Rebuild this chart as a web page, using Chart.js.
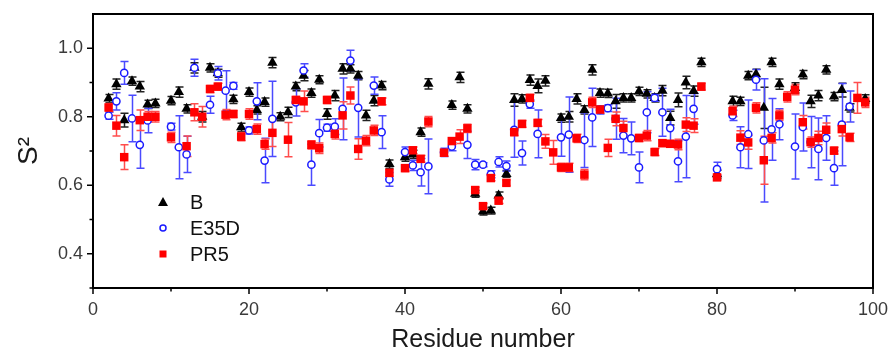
<!DOCTYPE html>
<html><head><meta charset="utf-8">
<script src="https://cdn.jsdelivr.net/npm/chart.js@4.4.0/dist/chart.umd.min.js"></script>
<style>html,body{margin:0;padding:0;background:#fff}#wrap{width:890px;height:354px}</style>
</head><body><div id="wrap"><canvas id="c" width="890" height="354"></canvas></div>
<script>
// ---- data ----
const residues = [2,3,4,5,6,7,8,10,11,12,13,14,15,16,17,18,19,20,21,22,23,24,25,26,27,28,29,30,31,32,33,34,35,36,37,38,40,41,42,43,45,46,47,48,49,50,51,52,53,54,55,56,57,58,59,60,61,62,63,64,65,66,67,68,69,70,71,72,73,74,75,76,77,78,80,82,83,84,85,86,87,88,89,90,91,92,93,94,95,96,97,98,99];
const bS2 = [0.853,0.895,0.79,0.904,0.888,0.836,0.839,0.847,0.872,0.823,0.943,0.80,0.943,0.927,null,0.851,0.769,0.872,0.82,0.843,0.958,0.80,0.813,0.888,0.92,0.869,0.908,0.808,0.862,0.94,0.94,0.92,0.804,0.847,0.891,0.662,0.682,0.69,0.755,0.896,null,0.834,0.915,0.823,0.575,0.523,0.526,0.57,0.633,0.849,0.852,0.907,0.89,0.905,null,0.796,0.80,0.852,0.82,0.937,0.869,0.868,0.845,0.855,0.855,0.874,0.867,0.855,0.876,0.796,0.849,0.9,0.875,0.959,0.632,0.845,0.845,0.92,0.924,0.826,0.959,0.895,null,0.884,0.923,0.845,0.862,0.937,0.859,0.878,0.826,null,0.852];
const bErr = [0.012,0.015,0.02,0.012,0.015,0.012,0.012,0.012,0.015,0.012,0.015,0.015,0.012,0.012,null,0.012,0.012,0.012,0.012,0.012,0.015,0.012,0.015,0.012,0.015,0.012,0.012,0.015,0.015,0.015,0.012,0.012,0.015,0.015,0.012,0.012,0.012,0.012,0.012,0.015,null,0.012,0.015,0.012,0.01,0.01,0.01,0.01,0.01,0.018,0.012,0.015,0.02,0.015,null,0.012,0.015,0.015,0.012,0.015,0.012,0.012,0.02,0.012,0.012,0.012,0.012,0.012,0.015,0.02,0.02,0.018,0.015,0.012,0.012,0.015,0.012,0.012,0.015,0.06,0.012,0.015,null,0.015,0.012,0.018,0.015,0.012,0.012,0.02,0.012,null,0.012];
const eS2 = [0.803,0.845,0.928,0.795,0.718,0.789,null,0.771,0.711,0.69,0.943,null,0.835,0.927,0.876,0.89,null,0.76,0.845,0.672,0.794,null,null,0.842,0.935,0.66,0.752,0.768,0.771,0.823,0.964,0.826,null,0.891,0.755,0.617,0.697,0.658,0.638,0.655,0.696,0.713,null,0.718,0.66,0.66,0.632,0.668,0.656,0.762,0.694,0.837,0.75,null,null,0.74,0.748,null,0.732,0.798,0.82,0.825,0.794,0.745,0.737,0.652,0.813,0.855,0.813,0.767,0.67,0.742,0.823,null,0.647,0.804,0.711,0.749,0.908,0.731,0.763,0.778,null,0.713,0.77,0.726,0.706,0.738,0.65,0.777,0.83,null,null];
const eErr = [0.01,0.025,0.033,0.068,0.068,0.036,null,0.01,0.092,0.053,0.025,null,0.025,0.02,0.058,0.01,null,0.01,0.054,0.065,0.11,null,null,0.04,0.02,0.06,0.04,0.01,0.023,0.09,0.03,0.085,null,0.025,0.048,0.02,0.015,0.015,0.04,0.08,0.012,0.012,null,0.04,0.015,0.006,0.01,0.015,0.015,0.08,0.035,0.012,0.07,null,null,0.055,0.11,null,0.08,0.085,0.012,0.01,0.06,0.05,0.048,0.045,0.06,0.01,0.07,0.055,0.06,0.12,0.045,null,0.02,0.015,0.06,0.1,0.03,0.18,0.09,0.045,null,0.095,0.07,0.075,0.09,0.065,0.05,0.12,0.045,null,null];
const pS2 = [0.827,0.774,0.682,null,0.79,0.80,0.80,0.74,null,0.714,0.813,0.80,0.881,0.888,0.806,0.808,0.742,0.808,0.764,0.72,0.753,null,0.733,0.849,0.845,0.718,0.708,0.849,0.75,0.804,0.862,0.706,0.73,0.76,0.845,0.636,0.65,0.702,0.677,0.786,0.695,0.729,0.742,0.766,0.586,0.539,0.621,0.555,0.607,0.755,0.779,0.855,0.782,0.728,0.696,0.652,0.652,0.737,0.631,0.842,0.821,0.709,0.794,0.767,null,0.738,0.745,0.697,0.723,0.721,0.719,0.777,0.774,0.888,0.623,0.816,0.739,0.725,0.826,0.673,0.738,0.804,0.858,0.879,0.784,0.726,0.738,0.762,0.701,0.764,0.74,0.855,0.842];
const pErr = [0.012,0.03,0.036,null,0.03,0.015,0.015,0.015,null,0.03,0.025,0.03,0.01,0.01,0.015,0.01,0.012,0.015,0.015,0.015,0.04,null,0.05,0.01,0.03,0.012,0.015,0.01,0.015,0.04,0.025,0.03,0.015,0.015,0.01,0.01,0.01,0.01,0.01,0.015,0.01,0.01,0.02,0.012,0.008,0.008,0.008,0.008,0.008,0.01,0.01,0.01,0.01,0.02,0.035,0.012,0.012,0.012,0.015,0.015,0.01,0.025,0.02,0.02,null,0.01,0.015,0.01,0.01,0.01,0.015,0.02,0.02,0.01,0.008,0.015,0.02,0.02,0.015,0.07,0.015,0.015,0.015,0.015,0.02,0.015,0.02,0.02,0.01,0.02,0.012,0.045,0.015];
const seriesNames = ['B','E35D','PR5'];
const xTicks = [0,20,40,60,80,100];
const xMinor = [10,30,50,70,90];
const yTicks = [0.4,0.6,0.8,1.0];
const yMinor = [0.3,0.5,0.7,0.9];
const xTitle = 'Residue number';
const yTitle = 'S\u00B2';

function mk(vals, errs){
  return residues.map((r,i)=> vals[i]==null ? null : {x:r, y:vals[i], e:errs[i]}).filter(Boolean);
}

const FONT = 'Arial, "Liberation Sans", sans-serif';

const errorBars = {
  id:'errorBars',
  beforeDatasetsDraw(chart){
    const {ctx, chartArea, scales:{x,y}} = chart;
    ctx.save();
    ctx.beginPath(); ctx.rect(chartArea.left, chartArea.top, chartArea.width, chartArea.height); ctx.clip();
    [0,1,2].forEach(i=>{
      const ds = chart.data.datasets[i];
      ctx.strokeStyle = ds.errColor; ctx.lineWidth = 1.5;
      ds.data.forEach(pt=>{
        if(pt.e==null) return;
        const px = Math.round(x.getPixelForValue(pt.x))+0.5;
        const y1 = y.getPixelForValue(pt.y+pt.e), y2 = y.getPixelForValue(pt.y-pt.e);
        ctx.beginPath();
        ctx.moveTo(px,y1); ctx.lineTo(px,y2);
        ctx.moveTo(px-4,y1); ctx.lineTo(px+4,y1);
        ctx.moveTo(px-4,y2); ctx.lineTo(px+4,y2);
        ctx.stroke();
      });
    });
    ctx.restore();
  }
};

const frameAndLegend = {
  id:'frameAndLegend',
  afterDraw(chart){
    const {ctx, chartArea:a, scales:{x,y}} = chart;
    ctx.save();
    ctx.strokeStyle = '#000'; ctx.lineWidth = 2;
    ctx.strokeRect(a.left, a.top, a.right-a.left, a.bottom-a.top);
    ctx.lineWidth = 1.5;
    ctx.beginPath();
    xTicks.forEach(v=>{const p=x.getPixelForValue(v); ctx.moveTo(p,a.bottom); ctx.lineTo(p,a.bottom+6);});
    xMinor.forEach(v=>{const p=x.getPixelForValue(v); ctx.moveTo(p,a.bottom); ctx.lineTo(p,a.bottom+3.5);});
    yTicks.forEach(v=>{const p=y.getPixelForValue(v); ctx.moveTo(a.left,p); ctx.lineTo(a.left-6,p);});
    yMinor.forEach(v=>{const p=y.getPixelForValue(v); ctx.moveTo(a.left,p); ctx.lineTo(a.left-3.5,p);});
    ctx.stroke();
    // legend
    const lx = 163, ly = [202,228,254], tx = 190;
    ctx.fillStyle = '#000';
    ctx.beginPath();
    ctx.moveTo(lx, ly[0]-5); ctx.lineTo(lx+5, ly[0]+4); ctx.lineTo(lx-5, ly[0]+4); ctx.closePath(); ctx.fill();
    ctx.strokeStyle = '#1a1aff'; ctx.lineWidth = 1.5; ctx.fillStyle='#fff';
    ctx.beginPath(); ctx.arc(lx, ly[1], 3, 0, Math.PI*2); ctx.fill(); ctx.stroke();
    ctx.fillStyle = '#f00'; ctx.fillRect(lx-3.5, ly[2]-3.5, 7, 7);
    ctx.fillStyle = '#111'; ctx.font = '20px ' + FONT; ctx.textBaseline='middle'; ctx.textAlign='left';
    seriesNames.forEach((n,i)=> ctx.fillText(n, tx, ly[i]+1));
    ctx.restore();
  }
};

function zeroPad(s){ s.paddingTop = 0; s.paddingBottom = 0; s.paddingLeft = 0; s.paddingRight = 0; }

new Chart(document.getElementById('c'), {
  type:'scatter',
  data:{ datasets:[
    {label:seriesNames[0], data:mk(bS2,bErr), pointStyle:'triangle', pointRadius:6, backgroundColor:'#000', borderColor:'#000', borderWidth:0, errColor:'#222', order:3},
    {label:seriesNames[1], data:mk(eS2,eErr), pointStyle:'circle', pointRadius:3.6, backgroundColor:'#fff', borderColor:'#1a1aff', borderWidth:1.5, errColor:'#4a4aff', order:2},
    {label:seriesNames[2], data:mk(pS2,pErr), pointStyle:'rect', pointRadius:6, backgroundColor:'#f00', borderColor:'#f00', borderWidth:0, errColor:'#ff4d4d', order:1}
  ]},
  options:{
    responsive:false, animation:false, devicePixelRatio:1, events:[],
    layout:{padding:{left:0,right:17,top:14,bottom:0}},
    plugins:{legend:{display:false}, tooltip:{enabled:false}},
    scales:{
      x:{type:'linear', min:0, max:100,
        afterBuildTicks:s=>{s.ticks = xTicks.map(v=>({value:v}));},
        afterFit:s=>{s.height = 66; zeroPad(s);},
        grid:{display:false, drawTicks:false}, border:{display:false},
        ticks:{padding:11, color:'#3a3a3a', font:{family:FONT, size:18}, maxRotation:0, callback:v=>String(v)},
        title:{display:true, text:xTitle, color:'#1a1a1a', font:{family:FONT, size:25, lineHeight:1}, padding:{top:0,bottom:1}}
      },
      y:{type:'linear', min:0.3, max:1.1,
        afterBuildTicks:s=>{s.ticks = yTicks.map(v=>({value:v}));},
        afterFit:s=>{s.width = 93; zeroPad(s);},
        grid:{display:false, drawTicks:false}, border:{display:false},
        ticks:{padding:10, color:'#3a3a3a', font:{family:FONT, size:18}, callback:v=>Number(v).toFixed(1)},
        title:{display:true, text:yTitle, color:'#1a1a1a', font:{family:FONT, size:28}, padding:{top:12,bottom:0}}
      }
    }
  },
  plugins:[errorBars, frameAndLegend]
});
</script></body></html>
